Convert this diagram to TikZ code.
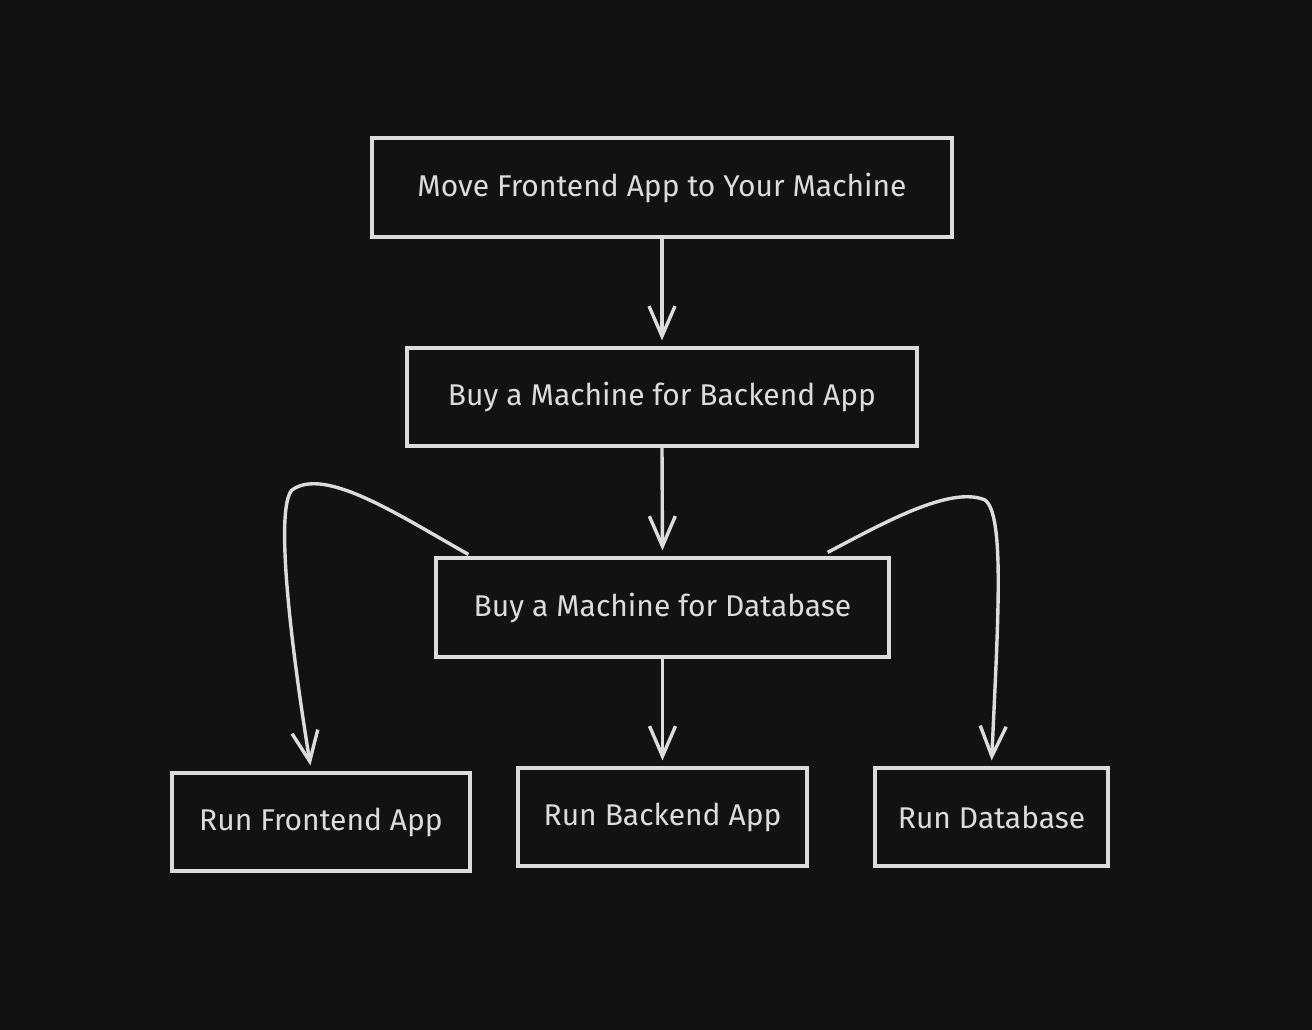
\documentclass[tikz,border=0pt]{standalone}
\usepackage{fontspec}
\setmainfont{Fira Sans}
\usetikzlibrary{arrows.meta,calc}
\definecolor{bg}{HTML}{121212}
\definecolor{ink}{HTML}{DCDCDC}
\begin{document}
\begin{tikzpicture}[x=1pt,y=-1pt,
  box/.style={draw=ink,line width=3.2pt,text=ink,font=\fontsize{30}{36}\selectfont,inner sep=0pt,anchor=center},
  conn/.style={draw=ink,line width=3.4pt,-{Straight Barb[length=30pt,width=26pt,line width=3.4pt]},shorten >=6pt}]
\fill[bg] (0,0) rectangle (1312,1030);
\useasboundingbox (0,0) rectangle (1312,1030);
\node[box,minimum width=580pt,minimum height=99pt] (move) at (662,187.5) {Move Frontend App to Your Machine};
\node[box,minimum width=510pt,minimum height=98pt] (back) at (662,397) {Buy a Machine for Backend App};
\node[box,minimum width=453pt,minimum height=99pt] (db) at (662.5,607.5) {Buy a Machine for Database};
\node[box,minimum width=298pt,minimum height=98pt] (rfe) at (321,822) {Run Frontend App};
\node[box,minimum width=289pt,minimum height=98pt] (rbe) at (662.5,817) {Run Backend App};
\node[box,minimum width=233pt,minimum height=98pt] (rdb) at (991.5,817) {Run Database};
\draw[conn] (move.south) -- (back.north);
\draw[conn] (back.south) -- (db.north);
\draw[conn] (db.south) -- (rbe.north);
\coordinate (l0) at ($(db.north west)+(34,-2)$);
\coordinate (l1) at (292,490);
\coordinate (l2) at ($(rfe.north west)+(141,0)$);
\draw[conn] (l0) .. controls (400,516) and (325,466) .. (l1)
  .. controls (275,508) and (290,640) .. (l2);
\coordinate (r0) at ($(db.north east)+(-63,-4)$);
\coordinate (r1) at (985,500);
\coordinate (r2) at ($(rdb.north west)+(118,0)$);
\draw[conn] (r0) .. controls (880,525) and (950,485) .. (r1)
  .. controls (1005,515) and (998,620) .. (r2);
\end{tikzpicture}
\end{document}
